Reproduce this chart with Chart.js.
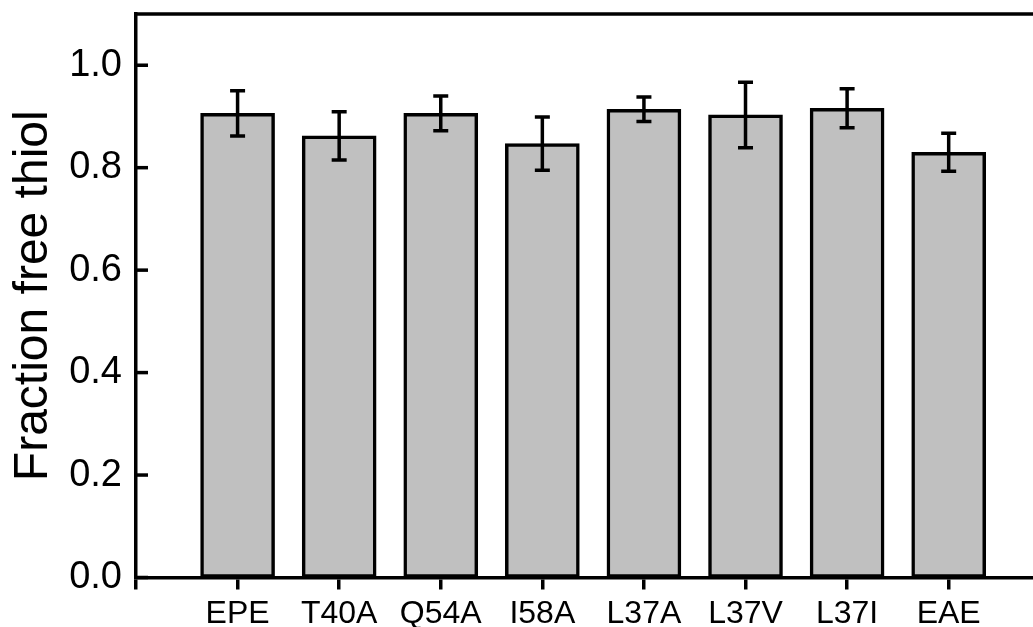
<!DOCTYPE html>
<html lang="en">
<head>
  <meta charset="UTF-8">
  <title>Fraction free thiol</title>
  <style>
    body {
      margin: 0;
      background: #fff;
      overflow: hidden;
    }
    canvas {
      display: block;
    }
  </style>
</head>
<body>
  <canvas id="thiolChart" width="1033" height="627"></canvas>

  <script src="https://cdn.jsdelivr.net/npm/chart.js"></script>
  <script>
    // Mutants and measured fraction of free thiol (mean and error)
    const categories = ['EPE', 'T40A', 'Q54A', 'I58A', 'L37A', 'L37V', 'L37I', 'EAE'];
    const means = [0.906, 0.862, 0.906, 0.847, 0.914, 0.903, 0.916, 0.830];
    const errors = [0.044, 0.047, 0.034, 0.052, 0.024, 0.064, 0.038, 0.037];
    const yTicks = [0.0, 0.2, 0.4, 0.6, 0.8, 1.0];

    const FONT = "'Liberation Sans', Arial, sans-serif";
    const LINE = 3.5;

    // error bars with caps, plus inward y ticks and the top frame line
    const extras = {
      id: 'extras',
      afterDatasetsDraw(chart) {
        const { ctx, chartArea, scales: { x, y } } = chart;
        ctx.save();
        ctx.strokeStyle = '#000';
        ctx.lineWidth = LINE;
        ctx.lineCap = 'butt';

        means.forEach((m, i) => {
          const px = x.getPixelForValue(i);
          const top = y.getPixelForValue(m + errors[i]);
          const bot = y.getPixelForValue(m - errors[i]);
          ctx.beginPath();
          ctx.moveTo(px, top);
          ctx.lineTo(px, bot);
          ctx.moveTo(px - 7.5, top);
          ctx.lineTo(px + 7.5, top);
          ctx.moveTo(px - 7.5, bot);
          ctx.lineTo(px + 7.5, bot);
          ctx.stroke();
        });

        yTicks.forEach(v => {
          const py = y.getPixelForValue(v);
          ctx.beginPath();
          ctx.moveTo(chartArea.left, py);
          ctx.lineTo(chartArea.left + 12, py);
          ctx.stroke();
        });

        ctx.beginPath();
        ctx.moveTo(chartArea.left - LINE / 2, chartArea.top);
        ctx.lineTo(chart.width, chartArea.top);
        ctx.stroke();
        ctx.restore();
      }
    };

    new Chart(document.getElementById('thiolChart'), {
      type: 'bar',
      data: {
        datasets: [{
          data: means.map((m, i) => ({ x: i, y: m })),
          backgroundColor: '#c0c0c0',
          borderColor: '#000',
          borderWidth: LINE,
          borderSkipped: false,
          barThickness: 74
        }]
      },
      options: {
        responsive: false,
        animation: false,
        layout: { padding: { top: 14, right: 0, left: 0, bottom: 0 } },
        plugins: {
          legend: { display: false },
          tooltip: { enabled: false }
        },
        scales: {
          x: {
            type: 'linear',
            offset: false,
            min: -1,
            max: 7.83,
            // a tick at the left edge, then one under each bar
            afterBuildTicks: s => {
              s.ticks = [-1, ...categories.map((c, i) => i)].map(v => ({ value: v }));
            },
            afterFit: s => {
              s.height = 49.5;
              s.paddingLeft = 0;
              s.paddingRight = 0;
            },
            ticks: {
              autoSkip: false,
              maxRotation: 0,
              color: '#000',
              padding: 5,
              font: { family: FONT, size: 32 },
              callback: v => categories[v] ?? ''
            },
            grid: {
              offset: false,
              drawOnChartArea: false,
              drawTicks: true,
              tickLength: 12,
              lineWidth: LINE,
              color: '#000'
            },
            border: { display: true, color: '#000', width: LINE }
          },
          y: {
            min: 0,
            max: 1.1,
            afterBuildTicks: s => { s.ticks = yTicks.map(v => ({ value: v })); },
            afterFit: s => {
              s.width = 136;
              s.paddingTop = 0;
              s.paddingBottom = 0;
            },
            ticks: {
              color: '#000',
              padding: 14,
              font: { family: FONT, size: 38 },
              callback: v => v.toFixed(1)
            },
            grid: { display: false, drawTicks: false },
            border: { display: true, color: '#000', width: LINE },
            title: {
              display: true,
              text: 'Fraction free thiol',
              color: '#000',
              padding: { top: 5, bottom: 0 },
              font: { family: FONT, size: 48 }
            }
          }
        }
      },
      plugins: [extras]
    });
  </script>
</body>
</html>
